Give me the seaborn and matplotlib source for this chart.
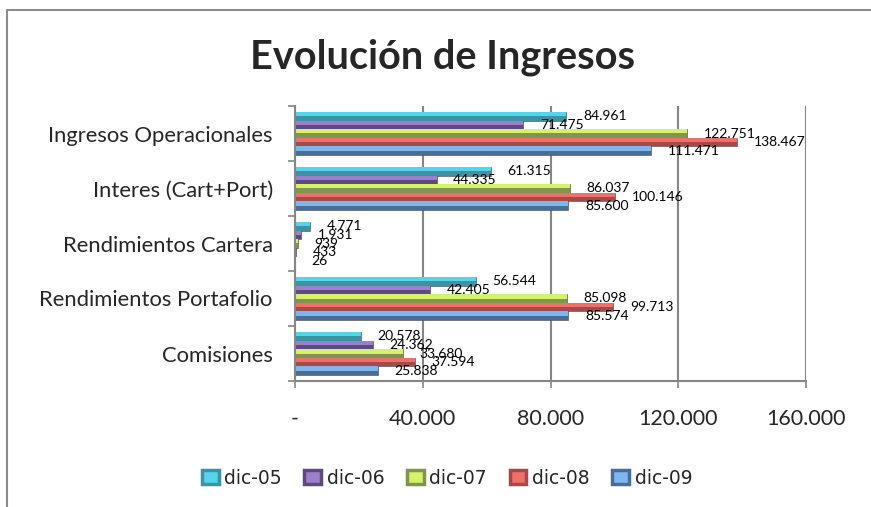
import pandas as pd
import matplotlib.pyplot as plt
import matplotlib.ticker as mticker
from matplotlib.patches import Rectangle
import seaborn as sns

# Datos del grafico (millones)
categorias = ['Ingresos Operacionales', 'Interes (Cart+Port)', 'Rendimientos Cartera',
              'Rendimientos Portafolio', 'Comisiones']
periodos = ['dic-05', 'dic-06', 'dic-07', 'dic-08', 'dic-09']
dic05 = [84961, 61315, 4771, 56544, 20578]
dic06 = [71475, 44335, 1931, 42405, 24362]
dic07 = [122751, 86037, 939, 85098, 33680]
dic08 = [138467, 100146, 433, 99713, 37594]
dic09 = [111471, 85600, 26, 85574, 25838]
x_ticks = [0, 40000, 80000, 120000, 160000]

series = [dic05, dic06, dic07, dic08, dic09]
rows = []
for p, vals in zip(periodos, series):
    for c, v in zip(categorias, vals):
        rows.append({'Concepto': c, 'Periodo': p, 'Valor': v})
df = pd.DataFrame(rows)

# colores: parte oscura (cara inferior) y brillo (cara superior)
dark = ['#3D93A4', '#5F4A7D', '#82944F', '#A24B48', '#4A6D97']
light = ['#55D4EC', '#9D80CC', '#D4F26C', '#EF6F6B', '#7DB7EE']

def fmt_miles(v):
    return f"{int(round(v)):,}".replace(',', '.')

sns.set_theme(style='white')
plt.rcParams['font.family'] = ['Lato', 'DejaVu Sans']

fig = plt.figure(figsize=(8.71, 5.07), dpi=100)
ax = fig.add_axes([295 / 871, 1 - 381 / 507, 511 / 871, 275 / 507])

sns.barplot(data=df, y='Concepto', x='Valor', hue='Periodo', orient='h',
            order=categorias, hue_order=periodos, palette=dark, width=0.78,
            errorbar=None, saturation=1, legend=False, ax=ax,
            edgecolor='#4a4a4a', linewidth=0.4)

# brillo superior de cada barra
for cont, lc in zip(ax.containers, light):
    for bar in cont:
        ax.add_patch(Rectangle((bar.get_x(), bar.get_y()), bar.get_width(),
                               bar.get_height() * 0.5, facecolor=lc,
                               edgecolor='none', zorder=bar.get_zorder() + 0.1))

for cont, vals in zip(ax.containers, series):
    ax.bar_label(cont, labels=[fmt_miles(v) for v in vals], padding=12,
                 fontsize=10, color='black')

gray = '#868686'
ax.set_xlim(0, 160000)
ax.set_ylim(len(categorias) - 0.5, -0.5)
ax.set_xticks(x_ticks)
ax.xaxis.set_major_formatter(mticker.FuncFormatter(lambda v, p: '-' if v == 0 else fmt_miles(v)))
ax.grid(axis='x', color=gray, linewidth=1.5)
ax.grid(axis='y', visible=False)
ax.set_axisbelow(True)
ax.set_xlabel('')
ax.set_ylabel('')

for s in ['top', 'right']:
    ax.spines[s].set_visible(False)
for s in ['left', 'bottom']:
    ax.spines[s].set_color(gray)
    ax.spines[s].set_linewidth(1.5)

ax.set_yticks([i - 0.5 for i in range(len(categorias) + 1)], minor=True)
ax.tick_params(axis='y', which='major', length=0, pad=16, labelsize=15.8)
ax.tick_params(axis='y', which='minor', left=True, length=5, width=1.2, color=gray)
ax.tick_params(axis='x', bottom=True, length=5, width=1.2, color=gray, pad=15, labelsize=15.5)

handles = [Rectangle((0, 0), 1, 1, facecolor=lc, edgecolor=dc, linewidth=2.5)
           for lc, dc in zip(light, dark)]
fig.legend(handles, periodos, loc='center', bbox_to_anchor=(447 / 871, 1 - 478 / 507),
           ncol=5, frameon=False, prop={'family': 'DejaVu Sans', 'size': 13.5},
           handlelength=0.9, handleheight=0.85, handletextpad=0.3, columnspacing=1.2)

fig.text(442 / 871, 1 - 69 / 507, 'Evolución de Ingresos', ha='center', va='baseline',
         fontsize=28.5, fontweight='bold')

# marco del area del grafico
fig.patches.append(Rectangle((7 / 871, -0.1), 1.2, 1 - 10 / 507 + 0.1,
                             transform=fig.transFigure, fill=False,
                             edgecolor='#8c8c8c', linewidth=1.5))

fig.savefig('out.png', dpi=100)
